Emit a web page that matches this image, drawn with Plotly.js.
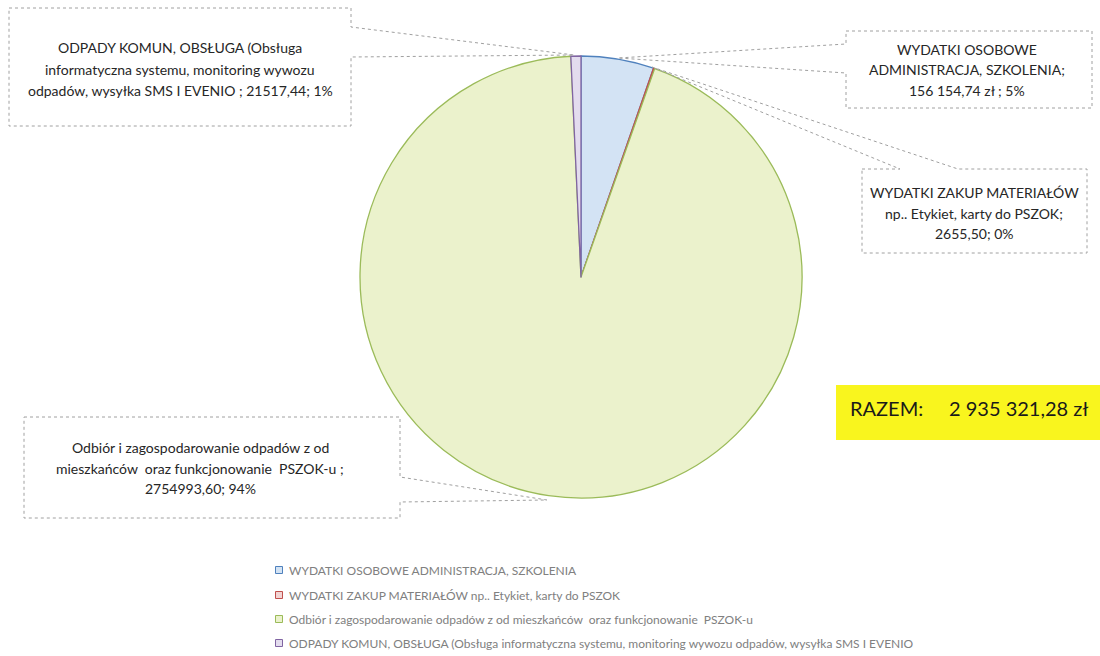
<!DOCTYPE html>
<html>
<head>
<meta charset="utf-8">
<script src="https://cdn.plot.ly/plotly-3.0.1.min.js"></script>
<style>
html,body{margin:0;padding:0;background:#ffffff;}
#chart{width:1100px;height:656px;}
</style>
</head>
<body>
<div id="chart"></div>
<script>
// ---- data ----
const categories = [
  'WYDATKI OSOBOWE ADMINISTRACJA, SZKOLENIA',
  'WYDATKI ZAKUP MATERIAŁÓW np.. Etykiet, karty do PSZOK',
  'Odbiór i zagospodarowanie odpadów z od mieszkańców  oraz funkcjonowanie  PSZOK-u',
  'ODPADY KOMUN, OBSŁUGA (Obsługa informatyczna systemu, monitoring wywozu odpadów, wysyłka SMS I EVENIO'
];
const values = [156154.74, 2655.50, 2754993.60, 21517.44];
const calloutText = [
  ['WYDATKI OSOBOWE', 'ADMINISTRACJA, SZKOLENIA;', '156 154,74 zł ; 5%'],
  ['WYDATKI ZAKUP MATERIAŁÓW', 'np.. Etykiet, karty do PSZOK;', '2655,50; 0%'],
  ['Odbiór i zagospodarowanie odpadów z od', 'mieszkańców  oraz funkcjonowanie  PSZOK-u ;', '2754993,60; 94%'],
  ['ODPADY KOMUN, OBSŁUGA (Obsługa', 'informatyczna systemu, monitoring wywozu', 'odpadów, wysyłka SMS I EVENIO ; 21517,44; 1%']
];
const totalLabel = 'RAZEM:';
const totalValue = '2 935 321,28 zł';

// ---- styles ----
const fillColors = ['#d3e3f4', '#f2d4d3', '#ebf2cc', '#e3dcee'];
const lineColors = ['#4f81bd', '#c0504d', '#9bbb59', '#8064a2'];

const W = 1100, H = 656;
const px = x => x / W;
const py = y => 1 - y / H;

// pie placement (pixels)
const cx = 581, cy = 277, R = 221;

// callout outlines (pixel geometry, layout only)
const calloutPaths = [
  [[846,31],[1092,31],[1092,108],[846,108],[846,73],[618,58],[846,44]],
  [[862,169],[900,169],[652,67],[958,169],[1087,169],[1087,253],[862,253]],
  [[24,417],[400,417],[400,477],[547,500],[400,502],[400,518],[24,518]],
  [[9,8],[351,8],[351,27],[574,55],[351,57],[351,126],[9,126]]
];
const calloutTextPos = [
  {x:967, y:[49,70,91]},
  {x:974, y:[192,213,233]},
  {x:200, y:[447,468,488]},
  {x:180, y:[48,69,90]}
];
const legendPos = {x:279, y:[570,595,619,643]};

const shapes = [];
const annotations = [];

calloutPaths.forEach(pts => {
  const d = pts.map((p, i) => (i ? 'L' : 'M') + px(p[0]) + ',' + py(p[1])).join(' ') + ' Z';
  shapes.push({type:'path', xref:'paper', yref:'paper', path:d,
    line:{color:'#a0a0a0', width:1, dash:'dot'}, fillcolor:'rgba(0,0,0,0)', layer:'above'});
});

calloutText.forEach((lines, i) => {
  lines.forEach((t, j) => {
    annotations.push({xref:'paper', yref:'paper', x:px(calloutTextPos[i].x), y:py(calloutTextPos[i].y[j]),
      xanchor:'center', yanchor:'middle', text:t, showarrow:false,
      font:{family:'Lato, sans-serif', size:14, color:'#262626'}});
  });
});

// legend (manual, from categories)
categories.forEach((c, i) => {
  const ly = legendPos.y[i];
  shapes.push({type:'rect', xref:'paper', yref:'paper',
    x0:px(legendPos.x - 3.5), x1:px(legendPos.x + 3.5), y0:py(ly + 3.5), y1:py(ly - 3.5),
    line:{color:lineColors[i], width:1}, fillcolor:fillColors[i]});
  annotations.push({xref:'paper', yref:'paper', x:px(legendPos.x + 8), y:py(ly),
    xanchor:'left', yanchor:'middle', text:c, showarrow:false,
    font:{family:'Lato, sans-serif', size:12, color:'#808080'}});
});

// total box
shapes.push({type:'rect', xref:'paper', yref:'paper', x0:px(836), x1:px(1100), y0:py(440), y1:py(385),
  line:{width:0}, fillcolor:'#f9f51e', layer:'below'});
annotations.push({xref:'paper', yref:'paper', x:px(848), y:py(408), xanchor:'left', yanchor:'middle',
  text:totalLabel, showarrow:false, font:{family:'Lato, sans-serif', size:20, color:'#1a1a1a'}});
annotations.push({xref:'paper', yref:'paper', x:px(947), y:py(408), xanchor:'left', yanchor:'middle',
  text:totalValue, showarrow:false, font:{family:'Lato, sans-serif', size:20, color:'#1a1a1a'}});

const trace = {
  type:'pie',
  labels:categories,
  values:values,
  sort:false,
  direction:'clockwise',
  rotation:0,
  textinfo:'none',
  hoverinfo:'label+value+percent',
  marker:{colors:fillColors, line:{color:lineColors, width:1.3}},
  domain:{x:[px(cx - R), px(cx + R)], y:[py(cy + R), py(cy - R)]},
  showlegend:false
};

const layout = {
  width:W, height:H,
  margin:{l:0, r:0, t:0, b:0},
  paper_bgcolor:'#ffffff',
  plot_bgcolor:'#ffffff',
  showlegend:false,
  shapes:shapes,
  annotations:annotations
};

Plotly.newPlot('chart', [trace], layout, {displayModeBar:false, staticPlot:true});
</script>
</body>
</html>
